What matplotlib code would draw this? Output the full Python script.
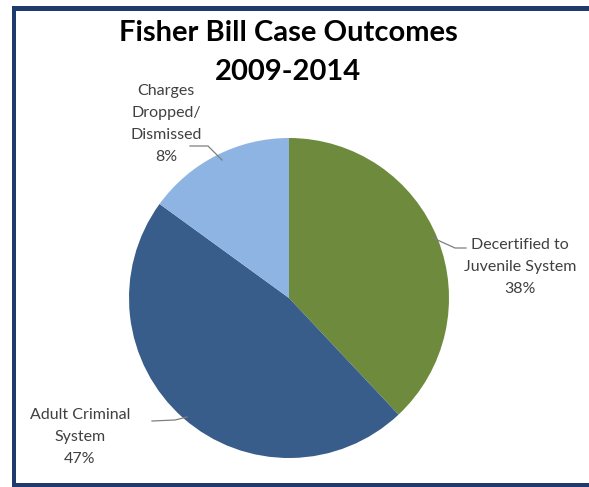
import matplotlib
matplotlib.use("Agg")
import matplotlib.pyplot as plt
from matplotlib.patches import Rectangle

categories = ["Decertified to\nJuvenile System", "Adult Criminal\nSystem", "Charges\nDropped/\nDismissed"]
values = [38, 47, 15]
pct_labels = ["38%", "47%", "8%"]
colors = ["#6E8B3D", "#385D8A", "#8EB4E3"]

W, H = 589, 487
fig = plt.figure(figsize=(W/100, H/100), dpi=100)
plt.rcParams['font.family'] = ['Lato', 'DejaVu Sans']

cx, cy, r = 289, 298, 160
ax = fig.add_axes([(cx - r)/W, (H - cy - r)/H, 2*r/W, 2*r/H])
ax.pie(values, colors=colors, startangle=90, counterclock=False, radius=1.0,
       wedgeprops=dict(linewidth=0))
ax.set_xlim(-1, 1)
ax.set_ylim(-1, 1)
ax.set_aspect('equal')
ax.axis('off')

def px(x, y):
    return ((x - cx)/r, (cy - y)/r)

txt_col = "#404040"
# label positions (pixel centers) and leader lines
label_pos = [(520, 267), (80, 437), (166, 124)]
leaders = [[(433, 238), (455, 248), (466, 248)],
           [(152, 421), (175, 420), (187, 417)],
           [(190, 146), (208, 146), (222, 160)]]
for cat, pct, (lx, ly), ld in zip(categories, pct_labels, label_pos, leaders):
    x, y = px(lx, ly)
    ax.text(x, y, cat + "\n" + pct, ha='center', va='center', fontsize=11.5,
            color=txt_col, linespacing=1.75, clip_on=False)
    xs = [px(a, b)[0] for a, b in ld]
    ys = [px(a, b)[1] for a, b in ld]
    ax.plot(xs, ys, color="#7F7F7F", lw=0.9, clip_on=False)

fig.text(288/W, 1 - 33/H, "Fisher Bill Case Outcomes", ha='center', va='center',
         fontsize=21, fontweight='bold', color='black')
fig.text(288/W, 1 - 72/H, "2009-2014", ha='center', va='center',
         fontsize=21, fontweight='bold', color='black')

navy = "#1F3A6E"
fig.add_artist(Rectangle((12/W, 1 - 11/H), (W - 12)/W + 0.01, 5/H, transform=fig.transFigure,
                         color=navy, lw=0))
fig.add_artist(Rectangle((12/W, 0), 4/W, (487 - 6)/H, transform=fig.transFigure,
                         color=navy, lw=0))
fig.add_artist(Rectangle((12/W, 0), (W - 12)/W + 0.01, 4/H, transform=fig.transFigure,
                         color=navy, lw=0))

fig.savefig("out.png", dpi=100, facecolor='white')
